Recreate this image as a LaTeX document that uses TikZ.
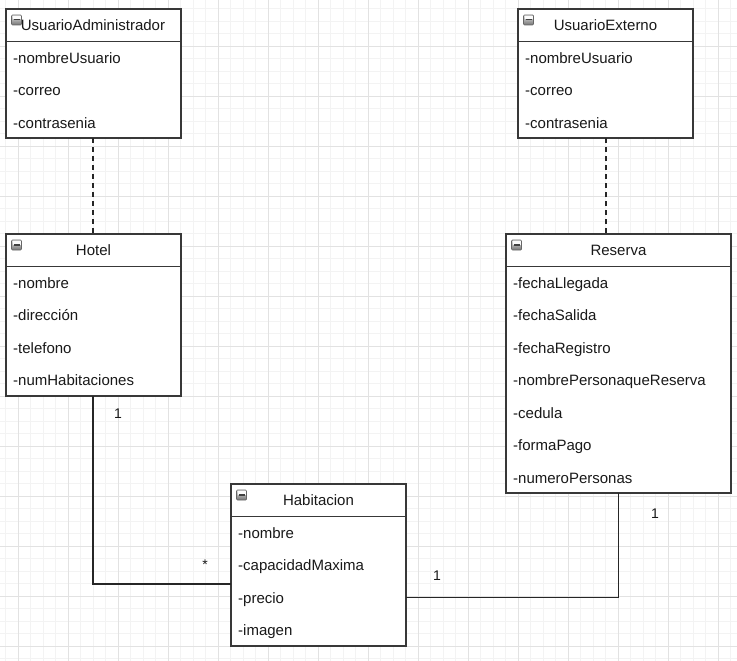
\documentclass[tikz,border=0pt]{standalone}
\usepackage{fontspec}
\setmainfont{Liberation Sans}
\begin{document}
\begin{tikzpicture}[x=1pt,y=-1pt,
  classbox/.style={draw=black!78, line width=1.1pt, fill=white, rectangle, anchor=north west, inner sep=0pt, outer sep=0pt},
  attr/.style={anchor=west, inner sep=0pt, text height=10.7pt, text depth=0pt, font=\fontsize{15}{15}\selectfont, text=black!90},
  title/.style={anchor=center, inner sep=0pt, text height=10.7pt, text depth=0pt, font=\fontsize{15}{15}\selectfont, text=black!90},
  conn/.style={draw=black!85, line width=1.1pt},
  dashconn/.style={draw=black!85, line width=1.1pt, dash pattern=on 5pt off 4pt},
  mult/.style={inner sep=0pt, text height=10pt, text depth=0pt, font=\fontsize{14}{14}\selectfont, text=black!90},
  hdr/.style={draw=black!78, line width=1.1pt},
  icon/.style={top color=black!10, bottom color=black!55, draw=black!60, line width=0.7pt, rounded corners=1pt}
]
\definecolor{minorgrid}{HTML}{F3F3F3}
\definecolor{majorgrid}{HTML}{E2E2E2}
\fill[white] (0,0) rectangle (737,661);
\useasboundingbox (0,0) rectangle (737,661);
% grid
\foreach \i in {0,...,59} {
  \pgfmathsetmacro{\gx}{5.5+12.5*\i}
  \draw[minorgrid, line width=0.8pt] (\gx,0) -- (\gx,661);
}
\foreach \i in {0,...,53} {
  \pgfmathsetmacro{\gy}{8.5+12.5*\i}
  \draw[minorgrid, line width=0.8pt] (0,\gy) -- (737,\gy);
}
\foreach \i in {0,...,14} {
  \pgfmathsetmacro{\gx}{18+50*\i}
  \draw[majorgrid, line width=0.8pt] (\gx,0) -- (\gx,661);
}
\foreach \i in {0,...,13} {
  \pgfmathsetmacro{\gy}{-4+50*\i}
  \draw[majorgrid, line width=0.8pt] (0,\gy) -- (737,\gy);
}

% ---------- UsuarioAdministrador
\node[classbox, minimum width=175pt, minimum height=129pt] (ua) at (6,9) {};
\draw[hdr] (6,41.5) -- (181,41.5);
\node[title] (uat) at (93,25.5) {UsuarioAdministrador};
\node[attr] (ua1) at (13,58) {-nombreUsuario};
\node[attr] (ua2) at (13,90.5) {-correo};
\node[attr] (ua3) at (13,123) {-contrasenia};

% ---------- UsuarioExterno
\node[classbox, minimum width=175pt, minimum height=129pt] (ue) at (518,9) {};
\draw[hdr] (518,41.5) -- (693,41.5);
\node[title] (uet) at (605.5,25.5) {UsuarioExterno};
\node[attr] (ue1) at (525,58) {-nombreUsuario};
\node[attr] (ue2) at (525,90.5) {-correo};
\node[attr] (ue3) at (525,123) {-contrasenia};

% ---------- Hotel
\node[classbox, minimum width=175pt, minimum height=162pt] (ho) at (6,234) {};
\draw[hdr] (6,266.5) -- (181,266.5);
\node[title] (hot) at (93.5,250.5) {Hotel};
\node[attr] (ho1) at (13,283) {-nombre};
\node[attr] (ho2) at (13,315.5) {-dirección};
\node[attr] (ho3) at (13,348) {-telefono};
\node[attr] (ho4) at (13,380.5) {-numHabitaciones};

% ---------- Reserva
\node[classbox, minimum width=225pt, minimum height=259pt] (re) at (506,234) {};
\draw[hdr] (506,266.5) -- (731,266.5);
\node[title] (ret) at (618.5,250.5) {Reserva};
\node[attr] (re1) at (513,283) {-fechaLlegada};
\node[attr] (re2) at (513,315.5) {-fechaSalida};
\node[attr] (re3) at (513,348) {-fechaRegistro};
\node[attr] (re4) at (513,380.5) {-nombrePersonaqueReserva};
\node[attr] (re5) at (513,413) {-cedula};
\node[attr] (re6) at (513,445.5) {-formaPago};
\node[attr] (re7) at (513,478) {-numeroPersonas};

% ---------- Habitacion
\node[classbox, minimum width=175pt, minimum height=162pt] (ha) at (231,484) {};
\draw[hdr] (231,516.5) -- (406,516.5);
\node[title] (hat) at (318.5,500.5) {Habitacion};
\node[attr] (ha1) at (238,533) {-nombre};
\node[attr] (ha2) at (238,565.5) {-capacidadMaxima};
\node[attr] (ha3) at (238,598) {-precio};
\node[attr] (ha4) at (238,630.5) {-imagen};

% collapse icons
\foreach \ix/\iy in {11.5/15, 523.5/15, 11.5/240, 511.5/240, 236.5/490} {
  \shade[icon] (\ix,\iy) rectangle ++(10,10);
  \fill[white!70!black!5] (\ix+1,\iy+1) rectangle ++(8,3.5);
  \draw[black!75, line width=1.4pt] (\ix+2,\iy+4.8) -- ++(6,0);
}

% connectors
\coordinate (haL) at (231,584);
\coordinate (haR) at (406,597.5);
\draw[dashconn] (ua.south -| 93,0) -- (ho.north -| 93,0);
\draw[dashconn] (ue.south -| 606,0) -- (re.north -| 606,0);
\draw[conn] (ho.south -| 93,0) |- (haL);
\draw[conn] (haR) -| (re.south -| 618.5,0);

% multiplicities
\node[mult] (m1) at (118,413) {1};
\node[mult] (m2) at (205,564) {*};
\node[mult] (m3) at (437,575) {1};
\node[mult] (m4) at (655,513) {1};
\end{tikzpicture}
\end{document}
